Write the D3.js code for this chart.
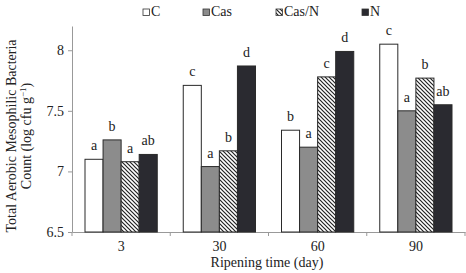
<!DOCTYPE html>
<html>
<head>
<meta charset="utf-8">
<script src="https://d3js.org/d3.v7.min.js"></script>
<style>
  body { margin: 0; background: #fff; }
  svg { display: block; }
</style>
</head>
<body>
<script>
// Data
const days = ["3", "30", "60", "90"];
const treatments = ["C", "Cas", "Cas/N", "N"];
const valuesC = [7.10, 7.71, 7.34, 8.05];
const valuesCas = [7.26, 7.04, 7.20, 7.50];
const valuesCasN = [7.08, 7.17, 7.78, 7.77];
const valuesN = [7.14, 7.87, 7.99, 7.55];
const lettersC = ["a", "c", "b", "c"];
const lettersCas = ["b", "a", "a", "a"];
const lettersCasN = ["a", "b", "c", "b"];
const lettersN = ["ab", "d", "d", "ab"];
const yTicks = [6.5, 7, 7.5, 8];

const width = 466, height = 273;
const margin = { top: 26, right: 0, bottom: 41, left: 72 };
const font = '"Liberation Serif", "Times New Roman", serif';

const seriesValues = [valuesC, valuesCas, valuesCasN, valuesN];
const seriesLetters = [lettersC, lettersCas, lettersCasN, lettersN];
const data = [];
days.forEach((day, i) => {
  treatments.forEach((t, j) => {
    data.push({ day: day, key: t, value: seriesValues[j][i], letter: seriesLetters[j][i] });
  });
});

const svg = d3.select("body").append("svg")
  .attr("width", width)
  .attr("height", height)
  .style("font-family", font);

// hatch for Cas/N
const defs = svg.append("defs");
const pat = defs.append("pattern")
  .attr("id", "hatch")
  .attr("patternUnits", "userSpaceOnUse")
  .attr("width", 4)
  .attr("height", 4);
pat.append("rect").attr("width", 4).attr("height", 4).attr("fill", "#fff");
pat.append("path")
  .attr("d", "M-1,-1 L5,5 M-1,3 L1,5 M3,-1 L5,1")
  .attr("stroke", "#222")
  .attr("stroke-width", 1.2);

const fills = { "C": "#ffffff", "Cas": "#8c8c8c", "Cas/N": "url(#hatch)", "N": "#2a2a30" };

const x0 = d3.scaleBand()
  .domain(days)
  .range([margin.left, width - 1]);

const x1 = d3.scaleBand()
  .domain(treatments)
  .range([13, x0.bandwidth() - 13]);

const y = d3.scaleLinear()
  .domain([6.5, 8.2])
  .range([height - margin.bottom, margin.top]);

// y axis
const yAxis = svg.append("g")
  .attr("transform", `translate(${margin.left},0)`)
  .call(d3.axisLeft(y).tickValues(yTicks).tickSize(4).tickSizeOuter(0).tickFormat(d3.format("")));
yAxis.select(".domain").attr("stroke", "#999");
yAxis.selectAll(".tick line").attr("stroke", "#999");
yAxis.selectAll(".tick text")
  .attr("x", -8)
  .attr("fill", "#222")
  .style("font-family", font)
  .style("font-size", "14px");

// x axis (labels centred, ticks at band edges)
const xAxis = svg.append("g")
  .attr("transform", `translate(0,${height - margin.bottom})`)
  .call(d3.axisBottom(x0).tickSize(0).tickSizeOuter(0));
xAxis.select(".domain").attr("stroke", "#999");
xAxis.selectAll(".tick text")
  .attr("y", 9)
  .attr("fill", "#222")
  .style("font-family", font)
  .style("font-size", "14px");

const edges = days.map((d) => x0(d)).concat([x0(days[days.length - 1]) + x0.bandwidth()]);
svg.append("g")
  .selectAll("line")
  .data(edges)
  .enter()
  .append("line")
  .attr("x1", (d) => d)
  .attr("x2", (d) => d)
  .attr("y1", height - margin.bottom)
  .attr("y2", height - margin.bottom + 4)
  .attr("stroke", "#999");

// bars
svg.append("g")
  .selectAll("rect")
  .data(data)
  .enter()
  .append("rect")
  .attr("x", (d) => x0(d.day) + x1(d.key))
  .attr("y", (d) => y(d.value))
  .attr("width", x1.bandwidth())
  .attr("height", (d) => y(6.5) - y(d.value))
  .attr("fill", (d) => fills[d.key])
  .attr("stroke", "#2a2a2a")
  .attr("stroke-width", 1);

// significance letters
svg.append("g")
  .selectAll("text")
  .data(data)
  .enter()
  .append("text")
  .attr("x", (d) => x0(d.day) + x1(d.key) + x1.bandwidth() / 2)
  .attr("y", (d) => y(d.value) - 9)
  .attr("text-anchor", "middle")
  .attr("fill", "#222")
  .style("font-size", "14px")
  .text((d) => d.letter);

// legend
const legendX = [143, 203, 276, 362];
const legend = svg.append("g")
  .selectAll("g")
  .data(treatments)
  .enter()
  .append("g")
  .attr("transform", (d, i) => `translate(${legendX[i]},9)`);
legend.append("rect")
  .attr("width", 6.5)
  .attr("height", 6.5)
  .attr("fill", (d) => fills[d])
  .attr("stroke", "#333")
  .attr("stroke-width", 0.8);
legend.append("text")
  .attr("x", 8)
  .attr("y", 7)
  .attr("fill", "#222")
  .style("font-size", "14px")
  .text((d) => d);

// axis titles
svg.append("text")
  .attr("text-anchor", "middle")
  .attr("transform", "translate(16,136) rotate(-90)")
  .attr("fill", "#222")
  .style("font-size", "14px")
  .text("Total Aerobic Mesophilic Bacteria");

const yt2 = svg.append("text")
  .attr("text-anchor", "middle")
  .attr("transform", "translate(31,136) rotate(-90)")
  .attr("fill", "#222")
  .style("font-size", "14px");
yt2.append("tspan").text("Count (log cfu g");
yt2.append("tspan").attr("dy", -5).style("font-size", "9px").text("−1");
yt2.append("tspan").attr("dy", 5).text(")");

svg.append("text")
  .attr("x", 267)
  .attr("y", 267)
  .attr("text-anchor", "middle")
  .attr("fill", "#222")
  .style("font-size", "14px")
  .text("Ripening time (day)");
</script>
</body>
</html>
